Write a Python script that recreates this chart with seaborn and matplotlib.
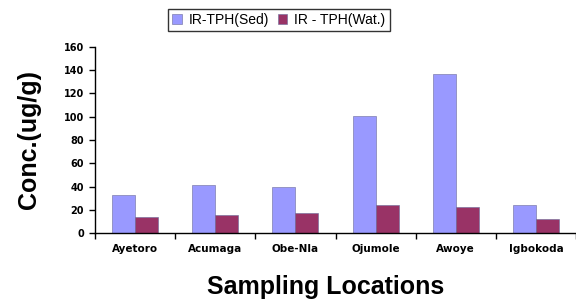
import pandas as pd
import matplotlib.pyplot as plt
import seaborn as sns
import numpy as np

# Data
locations = ['Ayetoro', 'Acumaga', 'Obe-Nla', 'Ojumole', 'Awoye', 'Igbokoda']
sed_values = [33, 41.5, 40, 101, 136.5, 24.5]
wat_values = [13.8, 15.5, 17.2, 24.5, 22.4, 12]
series_names = ['IR-TPH(Sed)', 'IR - TPH(Wat.)']
y_ticks = [0, 20, 40, 60, 80, 100, 120, 140, 160]

df = pd.DataFrame({
    'Location': locations * 2,
    'Conc': sed_values + wat_values,
    'Series': [series_names[0]] * len(locations) + [series_names[1]] * len(locations),
})

sns.set_style('white')
plt.rcParams['font.family'] = ['Liberation Sans', 'DejaVu Sans']
plt.rcParams['text.color'] = 'black'
plt.rcParams['axes.labelcolor'] = 'black'
plt.rcParams['xtick.color'] = 'black'
plt.rcParams['ytick.color'] = 'black'

fig = plt.figure(figsize=(5.76, 3.05), dpi=100)
ax = fig.add_axes([0.165, 0.236, 0.835, 0.61])

sns.barplot(data=df, x='Location', y='Conc', hue='Series',
            palette=['#9999FF', '#993366'], saturation=1, width=0.575,
            edgecolor='#6a6a9a', linewidth=0.4, ax=ax, legend=True)

ax.set_ylim(0, 160)
ax.set_xlim(-0.5, len(locations) - 0.5)
ax.set_yticks(y_ticks)
ax.set_yticklabels([str(t) for t in y_ticks], fontsize=7, fontweight='bold',
                   family='DejaVu Sans')

# Category labels centered, tick marks between categories (Excel style)
ax.set_xticks(range(len(locations)))
ax.set_xticklabels(locations, fontsize=7.5, fontweight='bold', family='DejaVu Sans')
ax.tick_params(axis='x', which='major', bottom=True, length=0, pad=8)
ax.set_xticks(np.arange(-0.5, len(locations), 1.0), minor=True)
ax.tick_params(axis='x', which='minor', bottom=True, length=4, width=1, direction='out')
ax.tick_params(axis='y', left=True, length=4, width=1, direction='out', pad=4)

for side in ['top', 'right']:
    ax.spines[side].set_visible(False)
for side in ['left', 'bottom']:
    ax.spines[side].set_color('black')
    ax.spines[side].set_linewidth(1)

ax.set_xlabel('Sampling Locations', fontsize=18, fontweight='bold')
ax.set_ylabel('Conc.(ug/g)', fontsize=18, fontweight='bold', labelpad=16)
ax.xaxis.set_label_coords(0.48, -0.225)

handles, labels = ax.get_legend_handles_labels()
ax.legend_.remove()
fig.legend(handles, labels, loc='upper left', bbox_to_anchor=(168 / 576, 1 - 9 / 305), ncol=2,
           fontsize=10, frameon=True, fancybox=False, edgecolor='black',
           handlelength=0.7, handleheight=0.7, handletextpad=0.5,
           columnspacing=0.6, borderpad=0.3, borderaxespad=0)

fig.savefig('out.png', dpi=100, facecolor='white')
